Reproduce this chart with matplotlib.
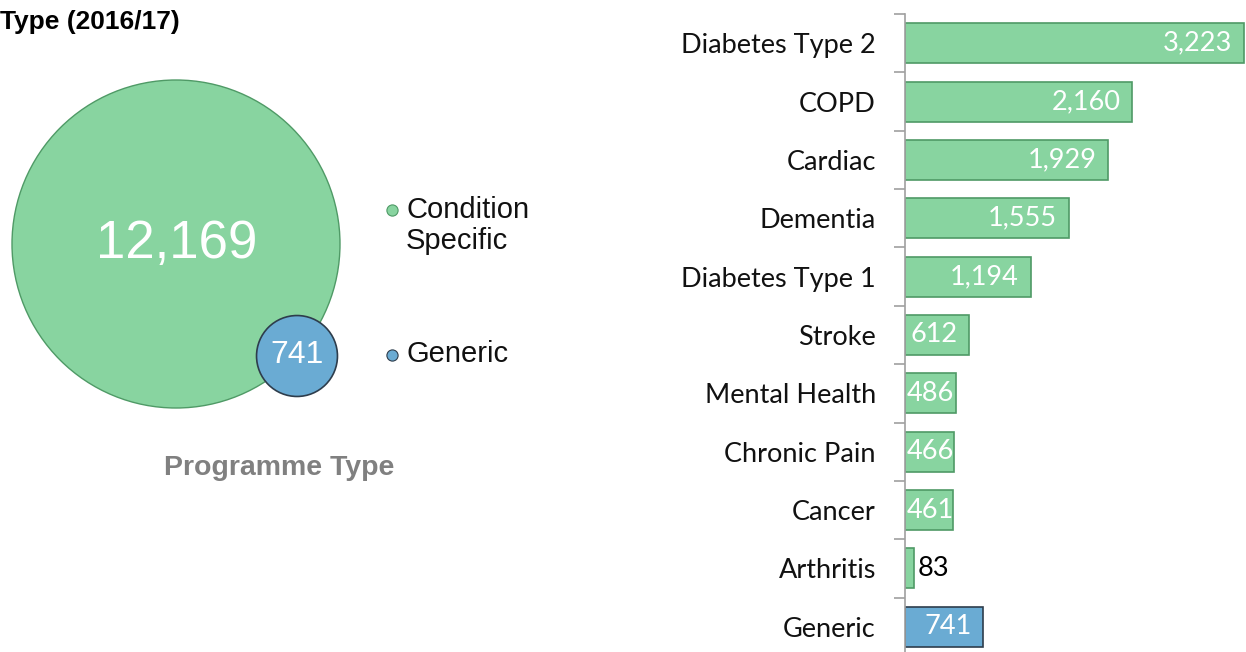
import matplotlib
matplotlib.use("Agg")
import matplotlib.pyplot as plt
from matplotlib.patches import Circle
import numpy as np

# data
prog_types = ["Condition\nSpecific", "Generic"]
prog_totals = [12169, 741]

conditions = ["Diabetes Type 2", "COPD", "Cardiac", "Dementia", "Diabetes Type 1",
              "Stroke", "Mental Health", "Chronic Pain", "Cancer", "Arthritis", "Generic"]
counts = [3223, 2160, 1929, 1555, 1194, 612, 486, 466, 461, 83, 741]

green = "#88D4A0"
green_edge = "#4F9A66"
blue = "#6AABD3"
blue_edge = "#2E3D4C"

fig = plt.figure(figsize=(12.46, 6.52), dpi=100)

# ---- left panel: bubbles (axes in pixel units) ----
ax0 = fig.add_axes([0, 0, 0.5, 1])
ax0.set_xlim(0, 623)
ax0.set_ylim(652, 0)
ax0.axis("off")

R = 164
r_big = R * np.sqrt(prog_totals[0] / max(prog_totals))
r_small = R * np.sqrt(prog_totals[1] / max(prog_totals))
ax0.add_patch(Circle((176, 244), r_big, facecolor=green, edgecolor=green_edge, lw=1))
ax0.add_patch(Circle((297, 356), r_small, facecolor=blue, edgecolor=blue_edge, lw=1.2))
ax0.text(177, 244, f"{prog_totals[0]:,}", color="white", fontsize=38,
         family="Liberation Sans", ha="center", va="center")
ax0.text(297, 355, f"{prog_totals[1]:,}", color="white", fontsize=23,
         family="Liberation Sans", ha="center", va="center")

# legend
ax0.scatter([392], [210], s=65, color=green, edgecolor=green_edge, lw=0.8, zorder=3)
ax0.scatter([392], [355], s=65, color=blue, edgecolor=blue_edge, lw=0.8, zorder=3)
ax0.text(406, 210, prog_types[0].split("\n")[0], fontsize=21, family="Liberation Sans",
         ha="left", va="center", color="#111111")
ax0.text(406, 241, prog_types[0].split("\n")[1], fontsize=21, family="Liberation Sans",
         ha="left", va="center", color="#111111")
ax0.text(406, 354, prog_types[1], fontsize=21, family="Liberation Sans",
         ha="left", va="center", color="#111111")

ax0.text(279, 468, "Programme Type", fontsize=20.5, family="Liberation Sans",
         weight="bold", color="#808080", ha="center", va="center")

fig.text(0.0, 1 - 22 / 652, "Type (2016/17)", fontsize=19, family="Liberation Sans",
         weight="bold", ha="left", va="center")

# ---- right panel: bars ----
ax = fig.add_axes([905 / 1246, -4 / 652, 341 / 1246, 642 / 652])
y = np.arange(len(conditions))
colors = [green] * (len(conditions) - 1) + [blue]
edges = [green_edge] * (len(conditions) - 1) + [blue_edge]
ax.barh(y, counts, height=0.685, color=colors, edgecolor=edges, linewidth=1.2)
ax.set_xlim(0, 3242)
ax.set_ylim(len(conditions) - 0.5, -0.5)

fs = 19.5
for yi, v in zip(y, counts):
    if v < 300:
        ax.text(v + 35, yi, f"{v:,}", color="black", fontsize=fs, family="Lato",
                ha="left", va="center")
    elif v < 600:
        ax.text(12, yi, f"{v:,}", color="white", fontsize=fs, family="Lato",
                ha="left", va="center")
    else:
        ax.text(v - 110, yi, f"{v:,}", color="white", fontsize=fs, family="Lato",
                ha="right", va="center")

ax.set_yticks(y)
ax.set_yticklabels(conditions, fontsize=fs, family="Lato", color="#111111")
ax.set_yticks(np.arange(-0.5, len(conditions), 1), minor=True)
ax.tick_params(axis="y", which="major", length=0, pad=21)
ax.tick_params(axis="y", which="minor", length=8, color="#A0A0A0", width=1.2)
ax.set_xticks([])
for s in ["top", "right", "bottom"]:
    ax.spines[s].set_visible(False)
ax.spines["left"].set_color("#A0A0A0")
ax.spines["left"].set_linewidth(1.2)

fig.savefig("out.png", dpi=100)
